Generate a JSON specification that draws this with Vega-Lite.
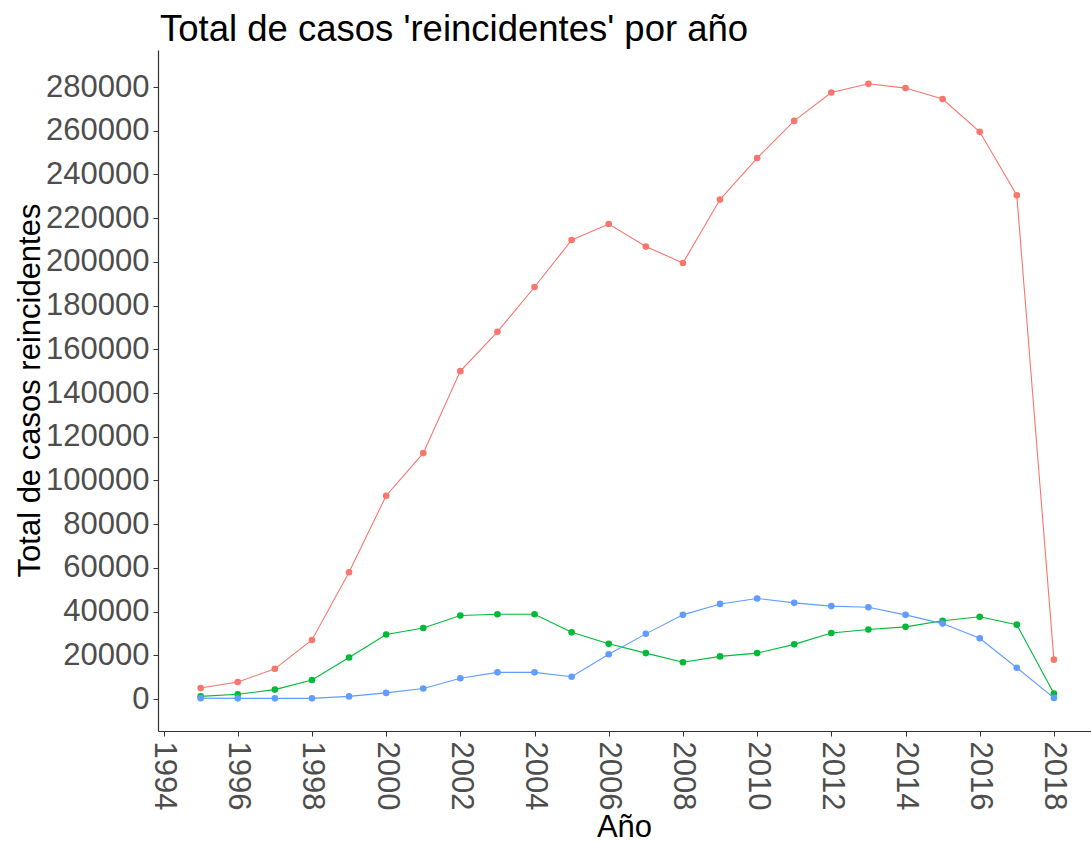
{
  "$schema": "https://vega.github.io/schema/vega-lite/v6.json",
  "autosize": {"type": "none"},
  "width": 933,
  "height": 681,
  "padding": {"left": 158, "top": 50, "right": 0, "bottom": 111},
  "background": "white",
  "title": {"text": "Total de casos 'reincidentes' por año", "anchor": "start", "frame": "group", "font": "Liberation Sans", "fontSize": 36.5, "fontWeight": "normal", "color": "#000000", "baseline": "alphabetic", "offset": 10, "dx": 2, "dy": 37},
  "config": {
    "view": {"stroke": null},
    "axis": {"grid": false, "domainColor": "#333333", "domainWidth": 1.2, "tickColor": "#333333", "tickSize": 5, "labelFont": "Liberation Sans", "labelFontSize": 31, "labelColor": "#4D4D4D", "titleFont": "Liberation Sans", "titleFontSize": 31, "titleFontWeight": "normal", "titleColor": "#000000"}
  },
  "data": {"values": [
    {"anio": 1995, "grupo": "A", "casos": 5000},
    {"anio": 1996, "grupo": "A", "casos": 7800},
    {"anio": 1997, "grupo": "A", "casos": 13800},
    {"anio": 1998, "grupo": "A", "casos": 27000},
    {"anio": 1999, "grupo": "A", "casos": 58000},
    {"anio": 2000, "grupo": "A", "casos": 93000},
    {"anio": 2001, "grupo": "A", "casos": 112500},
    {"anio": 2002, "grupo": "A", "casos": 150000},
    {"anio": 2003, "grupo": "A", "casos": 168000},
    {"anio": 2004, "grupo": "A", "casos": 188500},
    {"anio": 2005, "grupo": "A", "casos": 210000},
    {"anio": 2006, "grupo": "A", "casos": 217300},
    {"anio": 2007, "grupo": "A", "casos": 207000},
    {"anio": 2008, "grupo": "A", "casos": 199500},
    {"anio": 2009, "grupo": "A", "casos": 228500},
    {"anio": 2010, "grupo": "A", "casos": 247500},
    {"anio": 2011, "grupo": "A", "casos": 264500},
    {"anio": 2012, "grupo": "A", "casos": 277500},
    {"anio": 2013, "grupo": "A", "casos": 281500},
    {"anio": 2014, "grupo": "A", "casos": 279500},
    {"anio": 2015, "grupo": "A", "casos": 274500},
    {"anio": 2016, "grupo": "A", "casos": 259500},
    {"anio": 2017, "grupo": "A", "casos": 230500},
    {"anio": 2018, "grupo": "A", "casos": 18000},
    {"anio": 1995, "grupo": "B", "casos": 1200},
    {"anio": 1996, "grupo": "B", "casos": 2200},
    {"anio": 1997, "grupo": "B", "casos": 4300},
    {"anio": 1998, "grupo": "B", "casos": 8700},
    {"anio": 1999, "grupo": "B", "casos": 19000},
    {"anio": 2000, "grupo": "B", "casos": 29500},
    {"anio": 2001, "grupo": "B", "casos": 32500},
    {"anio": 2002, "grupo": "B", "casos": 38200},
    {"anio": 2003, "grupo": "B", "casos": 38800},
    {"anio": 2004, "grupo": "B", "casos": 38800},
    {"anio": 2005, "grupo": "B", "casos": 30500},
    {"anio": 2006, "grupo": "B", "casos": 25300},
    {"anio": 2007, "grupo": "B", "casos": 21000},
    {"anio": 2008, "grupo": "B", "casos": 16800},
    {"anio": 2009, "grupo": "B", "casos": 19500},
    {"anio": 2010, "grupo": "B", "casos": 21000},
    {"anio": 2011, "grupo": "B", "casos": 25000},
    {"anio": 2012, "grupo": "B", "casos": 30200},
    {"anio": 2013, "grupo": "B", "casos": 31800},
    {"anio": 2014, "grupo": "B", "casos": 33000},
    {"anio": 2015, "grupo": "B", "casos": 35800},
    {"anio": 2016, "grupo": "B", "casos": 37600},
    {"anio": 2017, "grupo": "B", "casos": 34000},
    {"anio": 2018, "grupo": "B", "casos": 2500},
    {"anio": 1995, "grupo": "C", "casos": 400},
    {"anio": 1996, "grupo": "C", "casos": 300},
    {"anio": 1997, "grupo": "C", "casos": 300},
    {"anio": 1998, "grupo": "C", "casos": 300},
    {"anio": 1999, "grupo": "C", "casos": 1200},
    {"anio": 2000, "grupo": "C", "casos": 2800},
    {"anio": 2001, "grupo": "C", "casos": 4800},
    {"anio": 2002, "grupo": "C", "casos": 9500},
    {"anio": 2003, "grupo": "C", "casos": 12200},
    {"anio": 2004, "grupo": "C", "casos": 12200},
    {"anio": 2005, "grupo": "C", "casos": 10200},
    {"anio": 2006, "grupo": "C", "casos": 20500},
    {"anio": 2007, "grupo": "C", "casos": 29800},
    {"anio": 2008, "grupo": "C", "casos": 38500},
    {"anio": 2009, "grupo": "C", "casos": 43500},
    {"anio": 2010, "grupo": "C", "casos": 46000},
    {"anio": 2011, "grupo": "C", "casos": 44000},
    {"anio": 2012, "grupo": "C", "casos": 42500},
    {"anio": 2013, "grupo": "C", "casos": 42000},
    {"anio": 2014, "grupo": "C", "casos": 38500},
    {"anio": 2015, "grupo": "C", "casos": 34500},
    {"anio": 2016, "grupo": "C", "casos": 27800},
    {"anio": 2017, "grupo": "C", "casos": 14300},
    {"anio": 2018, "grupo": "C", "casos": 500}
  ]},
  "encoding": {
    "x": {"field": "anio", "type": "quantitative", "title": "Año",
      "scale": {"domain": [1993.85, 2019.0], "nice": false, "zero": false},
      "axis": {"values": [1994, 1996, 1998, 2000, 2002, 2004, 2006, 2008, 2010, 2012, 2014, 2016, 2018], "format": "d", "labelAngle": 90, "labelPadding": 5, "labelAlign": "left", "labelBaseline": "middle", "titleX": 466, "titleY": 105, "titleBaseline": "alphabetic", "titleAlign": "center"}},
    "y": {"field": "casos", "type": "quantitative", "title": "Total de casos reincidentes",
      "scale": {"domain": [-14640, 296930], "nice": false, "zero": false},
      "axis": {"values": [0, 20000, 40000, 60000, 80000, 100000, 120000, 140000, 160000, 180000, 200000, 220000, 240000, 260000, 280000], "format": "d", "labelPadding": 4, "labelBaseline": "middle", "titleX": -128, "titleY": 340, "titleAngle": -90, "titleBaseline": "middle", "titleAlign": "center"}},
    "color": {"field": "grupo", "type": "nominal", "legend": null,
      "scale": {"domain": ["A", "B", "C"], "range": ["#F8766D", "#00BA38", "#619CFF"]}}
  },
  "layer": [
    {"mark": {"type": "line", "strokeWidth": 1.1}},
    {"mark": {"type": "point", "filled": true, "opacity": 1, "size": 44}}
  ]
}
